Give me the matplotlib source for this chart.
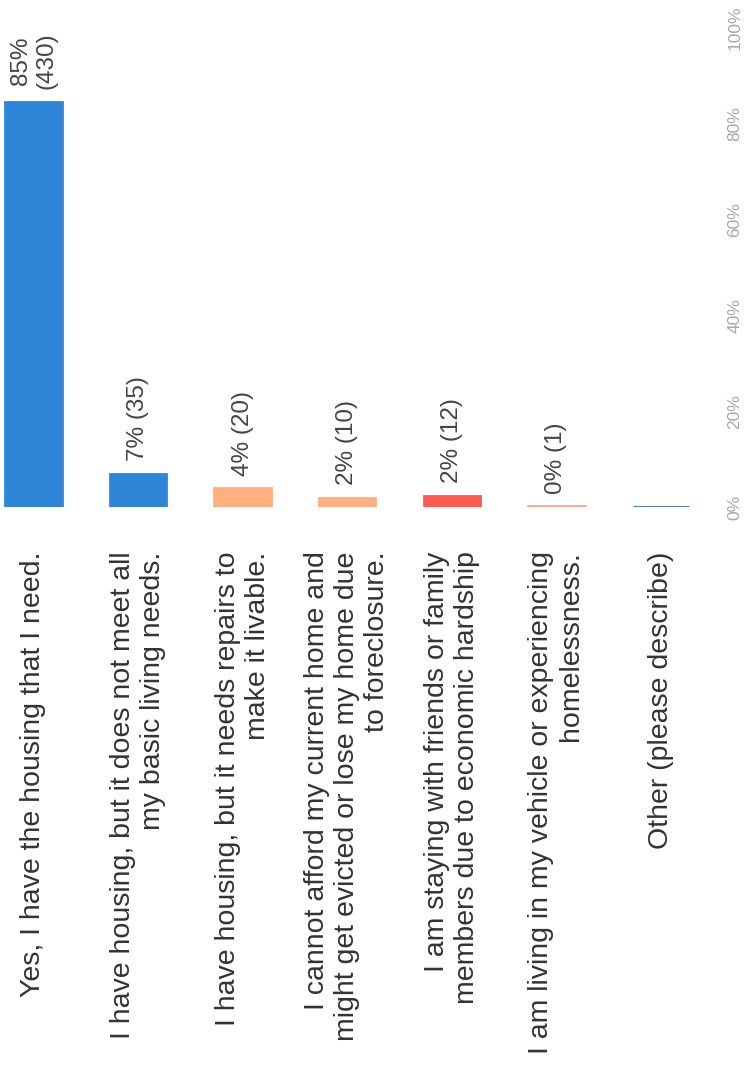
import matplotlib
matplotlib.use("Agg")
import matplotlib.pyplot as plt

plt.rcParams['font.family'] = ['Liberation Sans', 'DejaVu Sans']

# Survey answers and response counts
categories = [
    "Yes, I have the housing that I need.",
    "I have housing, but it does not meet all\nmy basic living needs.",
    "I have housing, but it needs repairs to\nmake it livable.",
    "I cannot afford my current home and\nmight get evicted or lose my home due\nto foreclosure.",
    "I am staying with friends or family\nmembers due to economic hardship",
    "I am living in my vehicle or experiencing\nhomelessness.",
    "Other (please describe)",
]
counts = [430, 35, 20, 10, 12, 1, 0]
colors = ["#2f86d9", "#2f86d9", "#ffb07e", "#ffb07e", "#ff5a50", "#f7a898", "#2e6da4"]
tick_values = [0, 20, 40, 60, 80, 100]
tick_labels = ["0%", "20%", "40%", "60%", "80%", "100%"]

total = sum(counts)
percents = [c / total * 100 for c in counts]

W, H = 744, 1075
fig = plt.figure(figsize=(W / 100, H / 100), dpi=100)
ax = fig.add_axes([0 / W, (H - 507) / H, 722 / W, 479 / H])

pos = list(range(len(categories)))
ax.bar(pos, percents, width=0.54, color=colors, edgecolor=colors, linewidth=2)

ax.set_xlim(-0.32, 6.583)
ax.set_ylim(0, 100)

# value labels above each bar
for x, p, c in zip(pos, percents, counts):
    if c == 0:
        continue
    sep = "\n" if p > 75 else " "
    ax.annotate(f"{round(p)}%{sep}({c})", xy=(x, p), xytext=(0, 9),
                textcoords="offset points", rotation=90, ha="center",
                va="bottom", multialignment="center", fontsize=17.5,
                color="#444444")

ax.set_xticks(pos)
ax.set_xticklabels(categories, rotation=90, fontsize=20.5, ha="center",
                   va="top", multialignment="right", color="#333333")
ax.tick_params(axis="x", length=0, pad=32)

ax.yaxis.tick_right()
ax.set_yticks(tick_values)
ax.set_yticklabels(tick_labels, rotation=90, fontsize=12.5, color="#a8a8a8",
                   va="center")
ax.tick_params(axis="y", length=0, pad=4)

for s in ax.spines.values():
    s.set_visible(False)

fig.savefig("out.png", dpi=100, facecolor="white")
